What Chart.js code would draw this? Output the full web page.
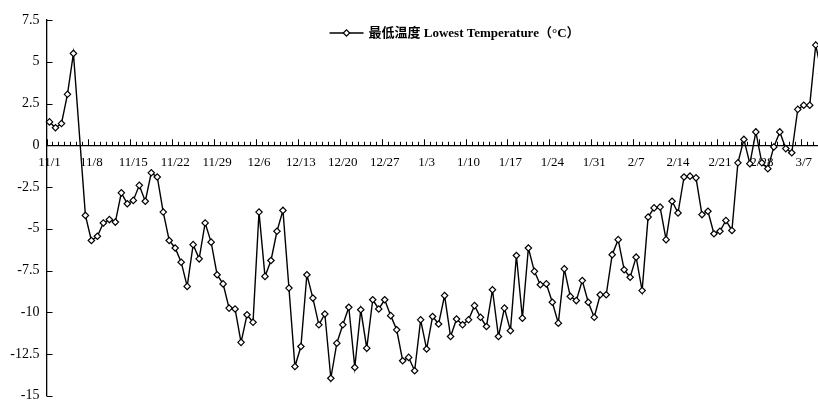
<!DOCTYPE html>
<html>
<head>
<meta charset="utf-8">
<script src="https://cdn.jsdelivr.net/npm/chart.js@4.4.1/dist/chart.umd.min.js"></script>
<style>
  html, body { margin: 0; padding: 0; background: #fff; overflow: hidden; }
  #wrap { width: 818px; height: 401px; overflow: hidden; position: relative; }
  canvas { display: block; }
</style>
</head>
<body>
<div id="wrap"><canvas id="c" width="832" height="401"></canvas></div>
<script>
// Daily minimum temperature, 1 Nov – 10 Mar (°C); null = no record that day
const monthDays = [[11, 30], [12, 31], [1, 31], [2, 28], [3, 10]];
const lowestTemp = [
  1.4, 1.05, 1.3, 3.05, 5.5, null, -4.2, -5.7, -5.45, -4.65,
  -4.45, -4.6, -2.85, -3.5, -3.3, -2.4, -3.35, -1.65, -1.9, -4.0,
  -5.7, -6.15, -7.0, -8.45, -5.95, -6.8, -4.65, -5.8, -7.75, -8.3,
  -9.75, -9.8, -11.8, -10.15, -10.6, -4.0, -7.85, -6.9, -5.15, -3.9,
  -8.55, -13.25, -12.05, -7.75, -9.15, -10.75, -10.1, -13.95, -11.85, -10.75,
  -9.7, -13.3, -9.85, -12.15, -9.25, -9.8, -9.25, -10.2, -11.05, -12.9,
  -12.7, -13.5, -10.45, -12.2, -10.25, -10.7, -9.0, -11.45, -10.4, -10.75,
  -10.45, -9.6, -10.3, -10.85, -8.65, -11.45, -9.75, -11.1, -6.6, -10.35,
  -6.15, -7.55, -8.35, -8.3, -9.4, -10.65, -7.4, -9.05, -9.3, -8.1,
  -9.4, -10.3, -8.95, -8.95, -6.55, -5.65, -7.45, -7.9, -6.7, -8.7,
  -4.3, -3.75, -3.7, -5.65, -3.35, -4.05, -1.9, -1.85, -1.95, -4.15,
  -3.95, -5.3, -5.15, -4.5, -5.1, -1.05, 0.35, -1.1, 0.8, -1.05,
  -1.4, -0.1, 0.8, -0.2, -0.45, 2.15, 2.4, 2.4, 6.0, 4.3
];
const tickLabels = ['11/1', '11/8', '11/15', '11/22', '11/29', '12/6', '12/13', '12/20', '12/27',
  '1/3', '1/10', '1/17', '1/24', '1/31', '2/7', '2/14', '2/21', '2/28', '3/7'];
const yTicks = [7.5, 5, 2.5, 0, -2.5, -5, -7.5, -10, -12.5, -15];
const seriesLabel = '最低温度 Lowest Temperature（°C）';

// one category per day, "M/D"
const dates = [];
monthDays.forEach(([m, n]) => { for (let d = 1; d <= n; d++) dates.push(m + '/' + d); });

const serif = "'Liberation Serif', 'Times New Roman', 'Noto Sans CJK SC', serif";

// short day ticks pointing up from the zero axis, longer weekly ones; inward ticks on the value axis
const axisTicks = {
  id: 'axisTicks',
  beforeDatasetsDraw(chart) {
    const { ctx, scales: { x, y } } = chart;
    const y0 = y.getPixelForValue(0);
    const half = (x.getPixelForValue(1) - x.getPixelForValue(0)) / 2;
    ctx.save();
    ctx.strokeStyle = '#000';
    ctx.lineWidth = 1;
    ctx.beginPath();
    for (let i = 0; i <= dates.length; i++) {
      const px = Math.round(x.getPixelForValue(i) - half) + 0.5;
      const len = i % 7 === 0 ? 6 : 3.5;
      ctx.moveTo(px, y0);
      ctx.lineTo(px, y0 - len);
    }
    yTicks.forEach(v => {
      const py = Math.round(y.getPixelForValue(v)) + 0.5;
      ctx.moveTo(x.left, py);
      ctx.lineTo(x.left + 6, py);
    });
    ctx.stroke();
    ctx.restore();
  }
};

// legend: line sample with marker, then the series name
const lineLegend = {
  id: 'lineLegend',
  afterDraw(chart) {
    const { ctx, chartArea } = chart;
    const ds = chart.data.datasets[0];
    const x0 = chartArea.left + 283;
    const yc = 33;
    ctx.save();
    ctx.strokeStyle = ds.borderColor;
    ctx.lineWidth = ds.borderWidth;
    ctx.beginPath();
    ctx.moveTo(x0, yc);
    ctx.lineTo(x0 + 34, yc);
    ctx.stroke();
    ctx.fillStyle = ds.pointBackgroundColor;
    ctx.lineWidth = ds.pointBorderWidth;
    Chart.helpers.drawPoint(ctx, { pointStyle: ds.pointStyle, radius: ds.pointRadius, rotation: 0, borderWidth: ds.pointBorderWidth }, x0 + 17, yc);
    ctx.fillStyle = '#000';
    ctx.font = "bold 13px " + serif;
    ctx.textBaseline = 'middle';
    ctx.textAlign = 'left';
    ctx.fillText(ds.label, x0 + 39, yc + 1);
    ctx.restore();
  }
};

new Chart(document.getElementById('c'), {
  type: 'line',
  data: {
    labels: dates,
    datasets: [{
      label: seriesLabel,
      data: lowestTemp,
      borderColor: '#000',
      borderWidth: 1.4,
      pointStyle: 'rectRot',
      pointRadius: 3.2,
      pointBackgroundColor: '#fff',
      pointBorderColor: '#000',
      pointBorderWidth: 1.2,
      spanGaps: true,
      tension: 0
    }]
  },
  options: {
    responsive: false,
    animation: false,
    events: [],
    layout: { padding: { top: 20, bottom: 4, left: 0, right: 7.3 } },
    plugins: { legend: { display: false }, tooltip: { enabled: false } },
    scales: {
      x: {
        type: 'category',
        offset: true,
        position: { y: 0 },
        grid: { display: false, drawTicks: false },
        border: { display: true, color: '#000', width: 1.3 },
        ticks: {
          autoSkip: false,
          maxRotation: 0,
          minRotation: 0,
          padding: 10,
          color: '#000',
          font: { family: serif, size: 13 },
          callback(v) { const l = dates[v]; return tickLabels.includes(l) ? l : ''; }
        },
        afterFit(s) { s.paddingLeft = 0; s.paddingRight = 0; }
      },
      y: {
        min: -15,
        max: 7.5,
        afterBuildTicks(s) { s.ticks = yTicks.map(v => ({ value: v })); },
        grid: { display: false, drawTicks: false },
        border: { display: true, color: '#000', width: 1.3 },
        ticks: {
          padding: 7,
          color: '#000',
          font: { family: serif, size: 14 },
          callback: v => String(v)
        },
        afterFit(s) { s.width = 46.5; s.paddingTop = 0; s.paddingBottom = 0; }
      }
    }
  },
  plugins: [axisTicks, lineLegend]
});
</script>
</body>
</html>
